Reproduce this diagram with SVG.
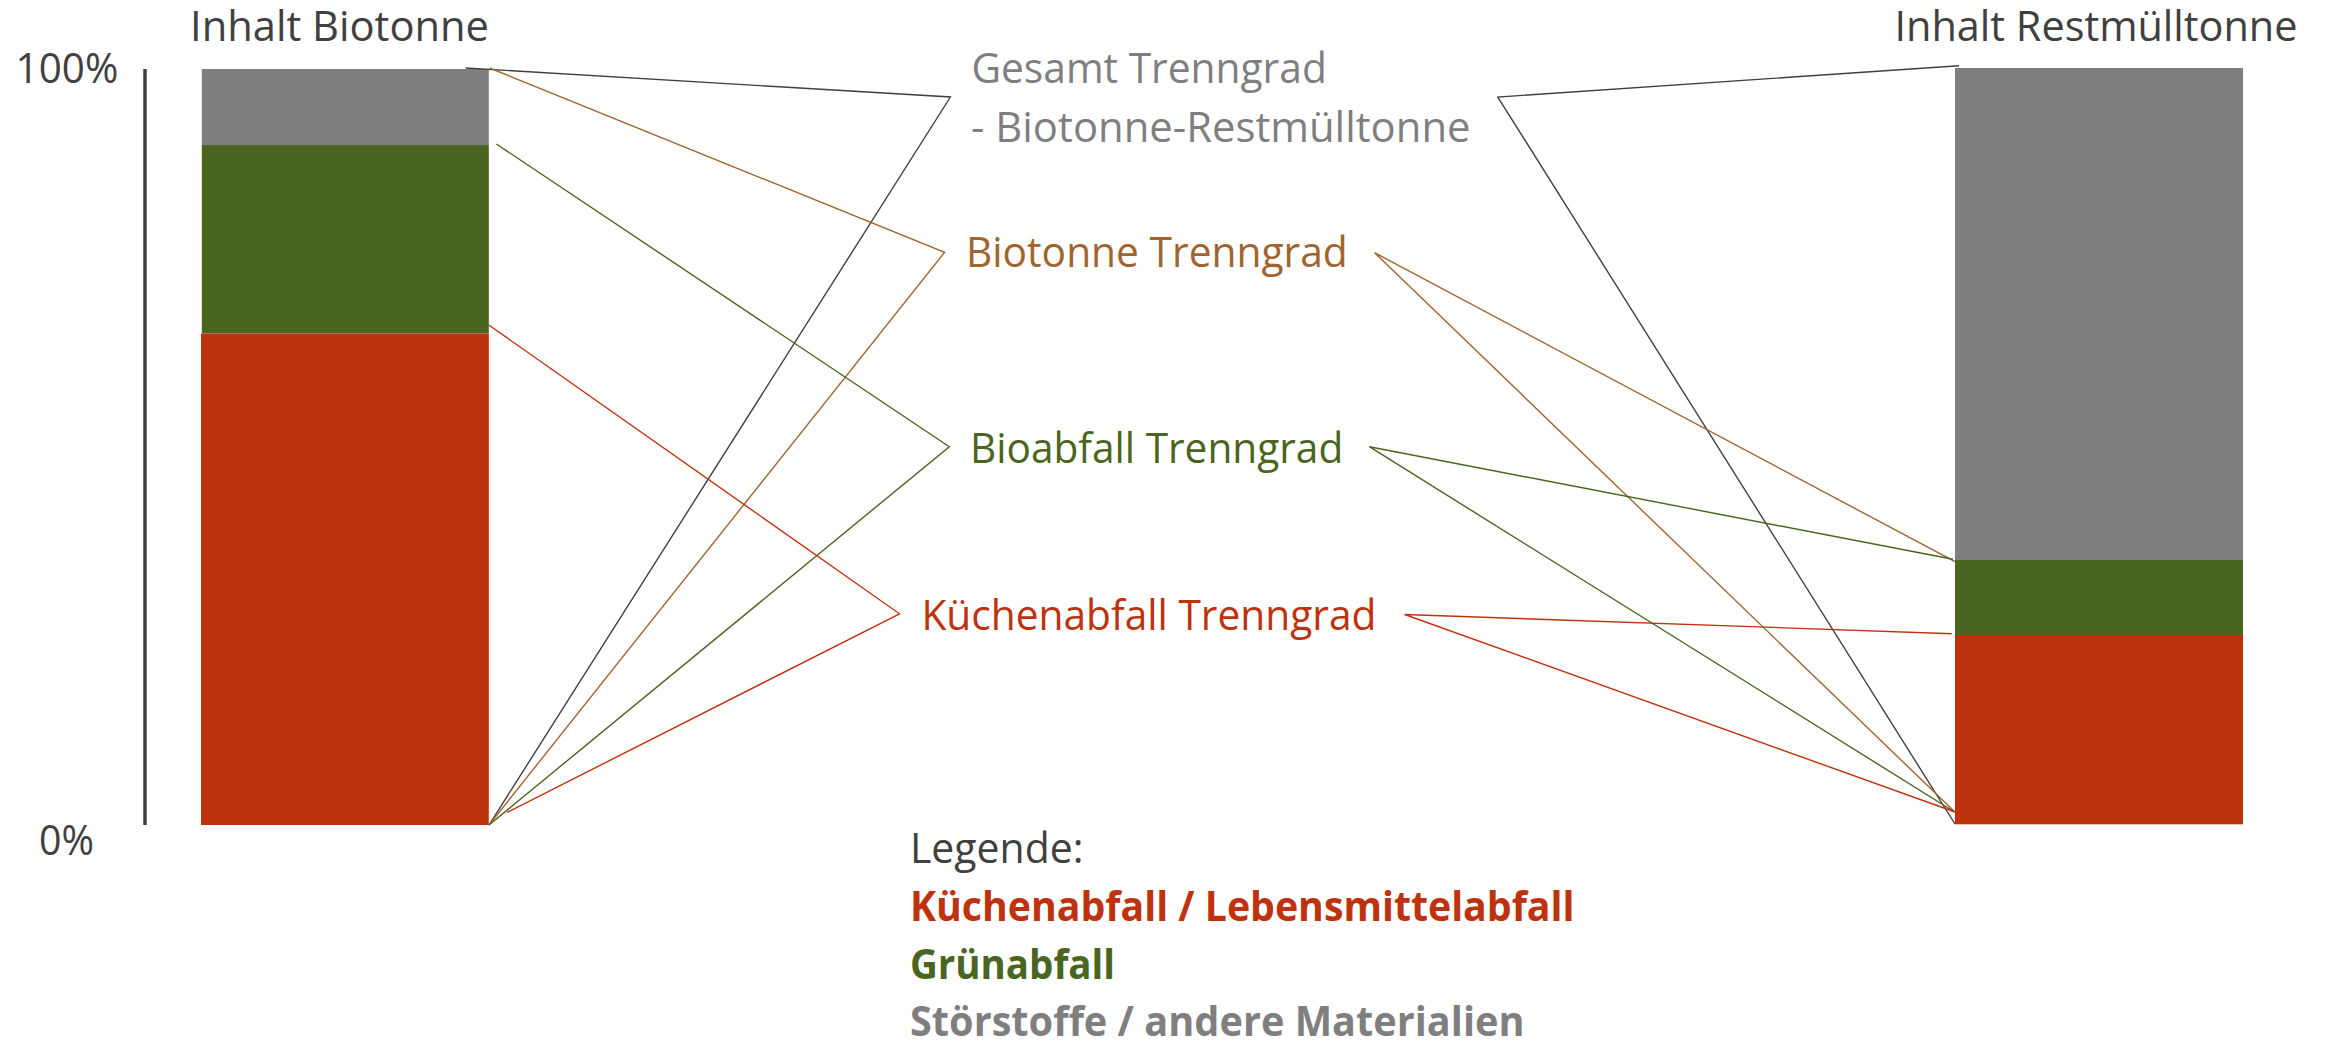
<svg xmlns="http://www.w3.org/2000/svg" width="2325" height="1044" viewBox="0 0 2325 1044">
<style>
text{font-family:"Open Sans","Liberation Sans",sans-serif;font-size:42px}
.b{font-weight:bold}
.dk{fill:#404040}
.gy{fill:#7F7F7F}
.gn{fill:#4A6520}
.rd{fill:#BF320E}
.br{fill:#A0652F}
.c{fill:none;stroke-width:1.4;stroke-linejoin:miter}
</style>
<rect width="2325" height="1044" fill="#FFFFFF"/>
<g id="axis">
<line x1="145" y1="69" x2="145" y2="825" stroke="#404040" stroke-width="3.5"/>
<text class="dk" x="15.6" y="83.3" textLength="102.7" lengthAdjust="spacingAndGlyphs">100%</text>
<text class="dk" x="39" y="855" textLength="55" lengthAdjust="spacingAndGlyphs">0%</text>
</g>
<g id="biotonne">
<text class="dk" x="190" y="41" textLength="299" lengthAdjust="spacingAndGlyphs">Inhalt Biotonne</text>
<rect class="gy" x="201.8" y="69" width="287" height="76"/>
<rect class="gn" x="201.8" y="145" width="287" height="188.5"/>
<rect class="rd" x="201" y="333.5" width="287.8" height="491.5"/>
</g>
<g id="restmuelltonne">
<text class="dk" x="1894.5" y="41" textLength="403" lengthAdjust="spacingAndGlyphs">Inhalt Restmülltonne</text>
<rect class="gy" x="1955" y="68" width="288" height="492"/>
<rect class="gn" x="1955" y="560" width="288" height="75"/>
<rect class="rd" x="1955" y="635" width="288" height="189.3"/>
</g>
<g id="gesamt">
<text class="gy" x="971.4" y="83.3" textLength="355.4" lengthAdjust="spacingAndGlyphs">Gesamt Trenngrad</text>
<text class="gy" x="971" y="141.7" textLength="499.5" lengthAdjust="spacingAndGlyphs">- Biotonne-Restmülltonne</text>
</g>
<g id="biotonne-trenngrad">
<text class="br" x="966" y="266.7" textLength="381.8" lengthAdjust="spacingAndGlyphs">Biotonne Trenngrad</text>
</g>
<g id="bioabfall-trenngrad">
<text class="gn" x="970" y="463.3" textLength="373.3" lengthAdjust="spacingAndGlyphs">Bioabfall Trenngrad</text>
</g>
<g id="kuechenabfall-trenngrad">
<text class="rd" x="921.4" y="630" textLength="455" lengthAdjust="spacingAndGlyphs">Küchenabfall Trenngrad</text>
</g>
<g id="legende">
<text class="dk" x="910" y="863.3" textLength="173.5" lengthAdjust="spacingAndGlyphs">Legende:</text>
<text class="rd b" x="910" y="920.5" textLength="664.5" lengthAdjust="spacingAndGlyphs">Küchenabfall / Lebensmittelabfall</text>
<text class="gn b" x="910" y="978.8" textLength="205" lengthAdjust="spacingAndGlyphs">Grünabfall</text>
<text class="gy b" x="910" y="1036" textLength="614.5" lengthAdjust="spacingAndGlyphs">Störstoffe / andere Materialien</text>
</g>
<g id="connectors">
<polyline class="c" stroke="#404040" points="465.6,68 950.4,97 489,825"/>
<polyline class="c" stroke="#A0652F" points="489.7,68 944.6,252.3 489,825"/>
<polyline class="c" stroke="#4A6520" points="496.4,144 949.3,446.7 489,825"/>
<polyline class="c" stroke="#BF320E" points="488.8,325 899.5,613.8 507.3,812.3"/>
<polyline class="c" stroke="#404040" points="1959,65.8 1497.8,97 1955,824"/>
<polyline class="c" stroke="#A0652F" points="1955,561.7 1374.6,252.7 1955,812"/>
<polyline class="c" stroke="#4A6520" points="1953,559.3 1369.3,446.7 1953,811"/>
<polyline class="c" stroke="#BF320E" points="1951.7,633.7 1404.6,614.5 1955,812"/>
</g>
</svg>
